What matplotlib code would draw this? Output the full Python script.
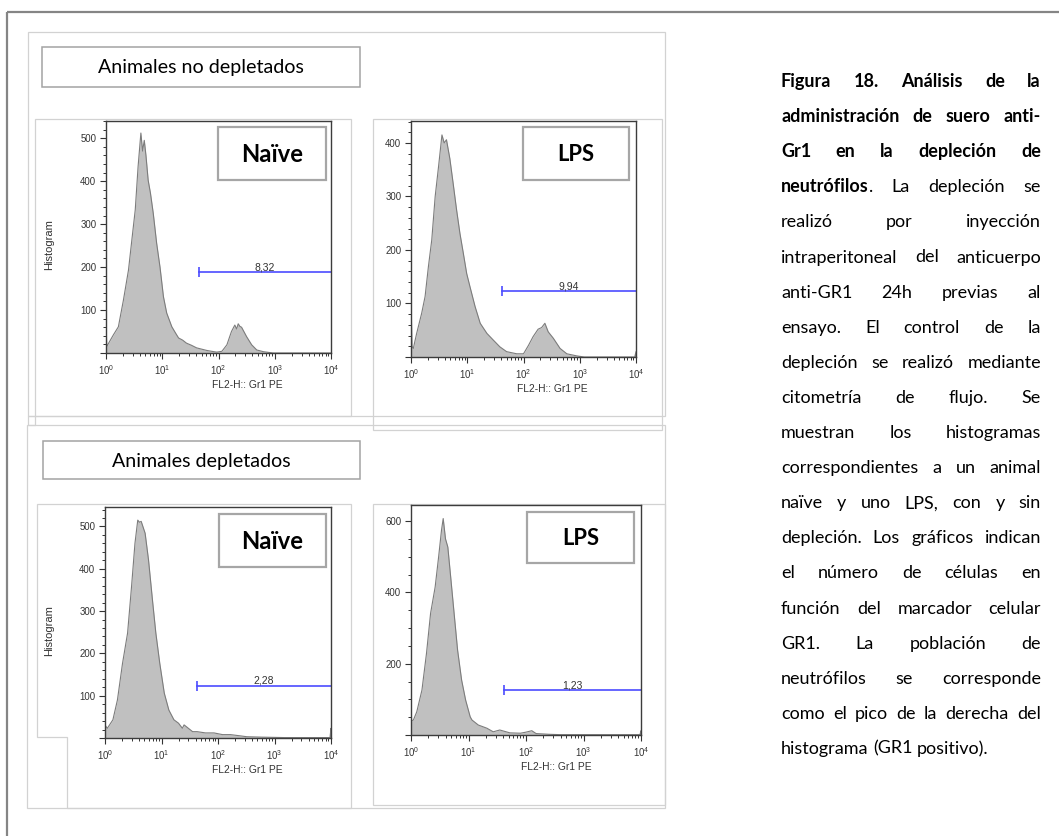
import numpy as np
import matplotlib.pyplot as plt
from matplotlib.ticker import LogLocator, MultipleLocator, NullFormatter
from matplotlib.patches import Rectangle, Polygon

plt.rcParams["font.family"] = ["Liberation Sans", "DejaVu Sans"]

W, H = 1059, 836
fig = plt.figure(figsize=(W / 100, H / 100), dpi=100)

# ---- data (FL2 value, cell count) ----
panel_names = ["Naïve", "LPS", "Naïve", "LPS"]
gate_pct = ["8,32", "9,94", "2,28", "1,23"]
gate_start = [45, 42, 42, 42]
gate_level = [188, 123, 123, 126]
y_max = [540, 441, 546, 645]
y_major = [100, 100, 100, 200]
y_minor = [20, 20, 20, 50]

nd_naive_fl2 = [1.0, 1.0, 1.03, 1.35, 1.66, 2.04, 2.51, 2.88, 3.31, 3.72, 4.17, 4.47, 4.79, 5.13,
                5.62, 6.17, 6.92, 7.94, 9.12, 10.5, 12.0, 14.8, 17.5, 19.5, 23, 26.9, 33, 40.7,
                50, 61.7, 75, 93.3, 115, 141, 170, 195, 210, 224, 240, 257, 316, 389, 479, 631,
                933, 10000]
nd_naive_cnt = [0, 77, 15, 42, 61, 123, 193, 263, 333, 434, 512, 470, 495, 460,
                402, 372, 325, 256, 200, 131, 93, 61, 45, 35, 30, 23, 18, 12,
                9, 6, 4, 2, 4, 19, 50, 65, 56, 68, 62, 60, 38, 19, 7, 3,
                0, 0]

nd_lps_fl2 = [1.0, 1.0, 1.04, 1.10, 1.26, 1.55, 1.78, 2.04, 2.34, 2.69, 3.09, 3.55, 3.89, 4.27,
              4.90, 5.62, 6.46, 7.41, 8.51, 9.77, 11.2, 13.8, 17.0, 22.4, 28.8, 38.0, 50.1, 75.9,
              100, 123, 148, 182, 210, 240, 275, 339, 447, 589, 891, 1200, 9500, 10000, 10000]
nd_lps_cnt = [0, 113, 20, 16, 44, 82, 113, 169, 219, 300, 356, 415, 400, 406,
              371, 324, 275, 231, 194, 156, 131, 94, 63, 44, 32, 19, 10, 6,
              6, 22, 38, 52, 55, 63, 47, 35, 16, 6, 2, 0, 0, 10, 0]

d_naive_fl2 = [1.0, 1.0, 1.10, 1.38, 1.66, 2.04, 2.51, 2.95, 3.39, 3.80, 4.07, 4.37, 5.13, 5.89,
               6.92, 7.94, 9.33, 11.2, 13.5, 16.6, 20, 23.4, 25.1, 35.5, 42.7, 60, 85.1, 120,
               166, 250, 324, 600, 1500, 9600, 10000, 10000]
d_naive_cnt = [0, 30, 23, 43, 90, 176, 248, 358, 460, 515, 510, 512, 484, 421,
               326, 248, 176, 106, 66, 43, 35, 23, 31, 15, 15, 12, 12, 8,
               8, 5, 3, 2, 1, 1, 23, 0]

d_lps_fl2 = [1.0, 1.0, 1.02, 1.10, 1.26, 1.55, 1.86, 2.19, 2.63, 3.02, 3.39, 3.63, 3.98, 4.37,
             4.90, 5.62, 6.46, 7.59, 8.91, 10.7, 11.5, 14.8, 20.9, 26.9, 35, 52.5, 80, 100,
             126, 150, 250, 389, 1000, 9600, 10000, 10000]
d_lps_cnt = [0, 280, 40, 42, 65, 126, 229, 341, 415, 499, 574, 607, 550, 527,
             443, 341, 238, 154, 98, 51, 42, 28, 19, 9, 14, 6, 5, 8,
             12, 4, 2, 1, 1, 1, 12, 0]

hist_fl2 = [nd_naive_fl2, nd_lps_fl2, d_naive_fl2, d_lps_fl2]
hist_cnt = [nd_naive_cnt, nd_lps_cnt, d_naive_cnt, d_lps_cnt]

headers = ["Animales no depletados", "Animales depletados"]

caption_lines = [
    "Figura 18. Análisis de la",
    "administración de suero anti-",
    "Gr1 en la depleción de",
    "neutrófilos. La depleción se",
    "realizó por inyección",
    "intraperitoneal del anticuerpo",
    "anti-GR1 24h previas al",
    "ensayo. El control de la",
    "depleción se realizó mediante",
    "citometría de flujo. Se",
    "muestran los histogramas",
    "correspondientes a un animal",
    "naïve y uno LPS, con y sin",
    "depleción. Los gráficos indican",
    "el número de células en",
    "función del marcador celular",
    "GR1. La población de",
    "neutrófilos se corresponde",
    "como el pico de la derecha del",
    "histograma (GR1 positivo).",
]
# leading characters set in bold on each caption line
caption_bold = [25, 29, 22, 11] + [0] * 16


# ---- layout helpers (figure pixels, origin top-left) ----
def px_axes(l, t, r, b, z=1):
    return fig.add_axes([l / W, 1 - b / H, (r - l) / W, (b - t) / H], zorder=z)


bg = px_axes(0, 0, W, H, 0)
fg = px_axes(0, 0, W, H, 5)
for a in (bg, fg):
    a.set_xlim(0, W)
    a.set_ylim(H, 0)
    a.axis("off")

rend = fig.canvas.get_renderer()

# outer page border (top + left only)
bg.plot([7, W], [12, 12], color="#858585", lw=1.6, solid_capstyle="butt")
bg.plot([7, 7], [12, H], color="#858585", lw=1.6, solid_capstyle="butt")

frame_col = "#d2d2d2"
for (l, t, r, b) in [(28, 32, 665, 416), (35, 119, 351, 416), (373, 119, 662, 430),
                     (28, 416, 35, 425), (27, 425, 665, 808), (373, 504, 665, 805)]:
    bg.add_patch(Rectangle((l, t), r - l, b - t, fill=False, ec=frame_col, lw=0.9))
bg.add_patch(Polygon([(37, 504), (351, 504), (351, 808), (67, 808), (67, 737), (37, 737)],
                     closed=True, fill=False, ec=frame_col, lw=0.9))

# section headers
hdr_boxes = [(42, 47, 360, 87), (43, 441, 360, 479)]
hdr_fs = 14
for txt, (l, t, r, b) in zip(headers, hdr_boxes):
    fg.add_patch(Rectangle((l, t), r - l, b - t, fc="white", ec="#a3a3a3", lw=1.1))
    ht = fg.text((l + r) / 2, (t + b) / 2 + 1, txt, family="Lato", fontsize=hdr_fs,
                 ha="center", va="center", color="black")
    if txt == headers[0]:
        hdr_fs = hdr_fs * 206 / ht.get_window_extent(rend).width
        ht.set_fontsize(hdr_fs)
    else:
        ht.set_fontsize(hdr_fs)

# ---- the four histograms ----
ax_rects = [(106, 121, 331, 353), (411, 121, 636, 357), (105, 507, 331, 738), (411, 505, 641, 735)]
label_boxes = [(218, 127, 326, 180), (523, 127, 629, 180), (219, 514, 326, 567), (527, 512, 634, 563)]
label_widths = {"Naïve": 62, "LPS": 37}

for i in range(4):
    l, t, r, b = ax_rects[i]
    ax = px_axes(l, t, r, b, 2)
    x = np.array(hist_fl2[i], dtype=float)
    y = np.array(hist_cnt[i], dtype=float)
    ax.fill_between(x, y, 0, color="#c0c0c0", lw=0)
    ax.plot(x, y, color="#7c7c7c", lw=0.8)
    ax.set_xscale("log")
    ax.set_xlim(1, 1e4)
    ax.set_ylim(0, y_max[i])

    ax.xaxis.set_major_locator(LogLocator(base=10, numticks=10))
    ax.xaxis.set_minor_locator(LogLocator(base=10, subs=np.arange(2, 10), numticks=20))
    ax.xaxis.set_minor_formatter(NullFormatter())
    yt = list(range(0, y_max[i], y_major[i]))
    ax.set_yticks(yt, labels=[""] + [str(v) for v in yt[1:]])
    ax.yaxis.set_minor_locator(MultipleLocator(y_minor[i]))
    ax.tick_params(which="major", length=4, width=0.8, direction="out", colors="#333333",
                   labelsize=6.9, pad=3)
    ax.tick_params(which="minor", length=2.4, width=0.7, direction="out", colors="#333333")
    for s in ax.spines.values():
        s.set_color("#3c3c3c")
        s.set_linewidth(1.0)

    # gate
    ax.plot([gate_start[i], 1e4], [gate_level[i], gate_level[i]], color="#4b4bff", lw=1.2,
            clip_on=False)
    ax.plot([gate_start[i]], [gate_level[i]], marker="|", ms=7, mew=1.2, color="#4b4bff")
    ax.text(np.sqrt(gate_start[i] * 1e4), gate_level[i], gate_pct[i], ha="center",
            va="bottom", fontsize=7.5, color="#333333")

    # axis titles
    fg.text(l + 0.63 * (r - l), b + 32, "FL2-H:: Gr1 PE", ha="center", va="center",
            fontsize=7.4, color="#333333")
    if i in (0, 2):
        fg.text(49, (t + b) / 2 + 8, "Histogram", rotation=90, ha="center", va="center",
                fontsize=8, color="#333333")

    # sample label box
    bl, bt, br, bb = label_boxes[i]
    fg.add_patch(Rectangle((bl, bt), br - bl, bb - bt, fc="white", ec="#a6a6a6", lw=1.6))
    lt = fg.text((bl + br) / 2, (bt + bb) / 2 + 1, panel_names[i], family="Lato",
                 fontweight="bold", fontsize=18, ha="center", va="center", color="black")
    lt.set_fontsize(18 * label_widths[panel_names[i]] / lt.get_window_extent(rend).width)

# ---- justified caption ----
cap_left, cap_right = 781, 1041
cap_base, cap_pitch = 87, 35.1
cap_fs = 13

# shrink the font until every justified line fits the column
widest = 0
for k, line in enumerate(caption_lines[:-1]):
    tt = fg.text(0, 0, line, family="Lato", fontsize=cap_fs,
                 fontweight="bold" if caption_bold[k] >= len(line) else "normal")
    widest = max(widest, tt.get_window_extent(rend).width)
    tt.remove()
if widest > (cap_right - cap_left) * 0.97:
    cap_fs = cap_fs * (cap_right - cap_left) * 0.97 / widest

sp = fg.text(0, 0, "a a", family="Lato", fontsize=cap_fs)
sp2 = fg.text(0, 0, "aa", family="Lato", fontsize=cap_fs)
space_w = sp.get_window_extent(rend).width - sp2.get_window_extent(rend).width
sp.remove()
sp2.remove()

for k, line in enumerate(caption_lines):
    yb = cap_base + k * cap_pitch
    items = []
    off = 0
    for w in line.split(" "):
        nb = max(0, min(len(w), caption_bold[k] - off))
        parts = []
        if nb > 0:
            parts.append((w[:nb], "bold"))
        if nb < len(w):
            parts.append((w[nb:], "normal"))
        arts = []
        for s, wt in parts:
            tx = fg.text(0, yb, s, family="Lato", fontsize=cap_fs, fontweight=wt,
                         ha="left", va="baseline", color="black")
            arts.append((tx, tx.get_window_extent(rend).width))
        items.append(arts)
        off += len(w) + 1
    total = sum(wd for arts in items for _, wd in arts)
    if k < len(caption_lines) - 1 and len(items) > 1:
        gap = (cap_right - cap_left - total) / (len(items) - 1)
    else:
        gap = space_w
    xx = cap_left
    for arts in items:
        for tx, wd in arts:
            tx.set_x(xx)
            xx += wd
        xx += gap

fig.savefig("out.png", dpi=100, facecolor="white")
